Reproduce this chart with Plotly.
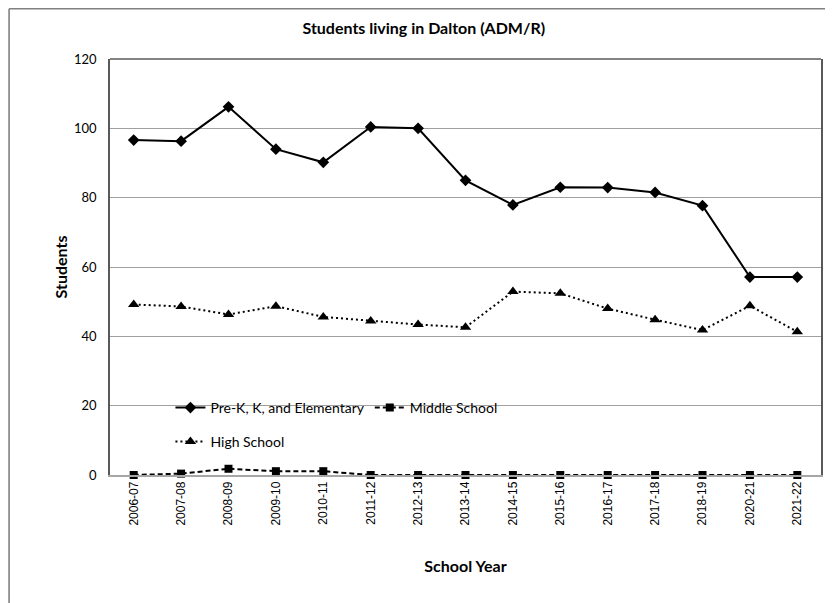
import plotly.graph_objects as go

years = ["2006-07", "2007-08", "2008-09", "2009-10", "2010-11", "2011-12", "2012-13",
         "2013-14", "2014-15", "2015-16", "2016-17", "2017-18", "2018-19", "2020-21", "2021-22"]
elementary = [96.6, 96.3, 106.2, 94.0, 90.2, 100.4, 100.0, 85.0, 77.9, 83.0, 82.9, 81.5, 77.7, 57.1, 57.1]
middle = [0, 0.4, 1.8, 1.1, 1.1, 0, 0, 0, 0, 0, 0, 0, 0, 0, 0]
high = [49.2, 48.6, 46.3, 48.7, 45.6, 44.4, 43.4, 42.6, 52.9, 52.4, 48.0, 44.8, 41.8, 48.8, 41.3]

FONT = "Lato"
W, H = 825, 595
ML, MR, MT, MB = 102, 10, 51, 128
PW, PH = W - ML - MR, H - MT - MB

fig = go.Figure()
fig.add_trace(go.Scatter(x=years, y=elementary, name="Pre-K, K, and Elementary", mode="lines+markers",
                         line=dict(color="black", width=2), cliponaxis=False,
                         marker=dict(symbol="diamond", size=9, color="black"), legend="legend"))
fig.add_trace(go.Scatter(x=years, y=middle, name="Middle School", mode="lines+markers",
                         line=dict(color="black", width=2, dash="5px,3px"), cliponaxis=False,
                         marker=dict(symbol="square", size=8, color="black"), legend="legend"))
fig.add_trace(go.Scatter(x=years, y=high, name="High School", mode="lines+markers",
                         line=dict(color="black", width=2, dash="2px,3px"), cliponaxis=False,
                         marker=dict(symbol="triangle-up", size=10, color="black"), legend="legend2"))

fig.update_layout(
    width=W, height=H,
    margin=dict(l=ML, r=MR, t=MT, b=MB),
    paper_bgcolor="white", plot_bgcolor="white",
    title=dict(text="<b>Students living in Dalton (ADM/R)</b>", x=0.504, xanchor="center",
               y=1 - 20 / H, yanchor="middle", font=dict(family=FONT, size=16, color="black")),
    xaxis=dict(type="category", range=[-0.5, len(years) - 0.5], showline=True,
               linecolor="#a6a6a6", linewidth=1.5,
               showgrid=False, ticks="", tickangle=-90,
               tickfont=dict(family="Liberation Sans", size=12, color="black"),
               title=dict(text="<b>School Year</b>", font=dict(family=FONT, size=16, color="black"),
                          standoff=36)),
    yaxis=dict(range=[0, 120], dtick=20, showline=True, linecolor="#595959", linewidth=1.5,
               mirror=True, showgrid=True, gridcolor="#a0a0a0", gridwidth=1, zeroline=False,
               ticks="", ticklabelstandoff=9,
               tickfont=dict(family=FONT, size=13, color="black"),
               title=dict(text="<b>Students</b>", font=dict(family=FONT, size=16, color="black"),
                          standoff=2)),
    legend=dict(orientation="h", x=0.085, y=(467 - 400) / PH, xanchor="left", yanchor="middle",
                bgcolor="rgba(0,0,0,0)", font=dict(family=FONT, size=14, color="black"),
                itemwidth=30, tracegroupgap=0),
    legend2=dict(orientation="h", x=0.085, y=(467 - 434) / PH, xanchor="left", yanchor="middle",
                 bgcolor="rgba(0,0,0,0)", font=dict(family=FONT, size=14, color="black"),
                 itemwidth=30),
    showlegend=True,
)

# plot area top edge
fig.add_shape(type="line", xref="paper", yref="paper", x0=0, x1=1, y0=1, y1=1,
              line=dict(color="#595959", width=1.5))
# outer chart border (top and left, at the figure edge)
left = (0.8 - ML) / PW
top = 1 + (MT - 0.8) / PH
fig.add_shape(type="line", xref="paper", yref="paper", x0=left, x1=(W - ML) / PW,
              y0=top, y1=top, line=dict(color="#808080", width=1.6))
fig.add_shape(type="line", xref="paper", yref="paper", x0=left, x1=left,
              y0=top, y1=-MB / PH, line=dict(color="#808080", width=1.6))

fig.write_html("out.html")
